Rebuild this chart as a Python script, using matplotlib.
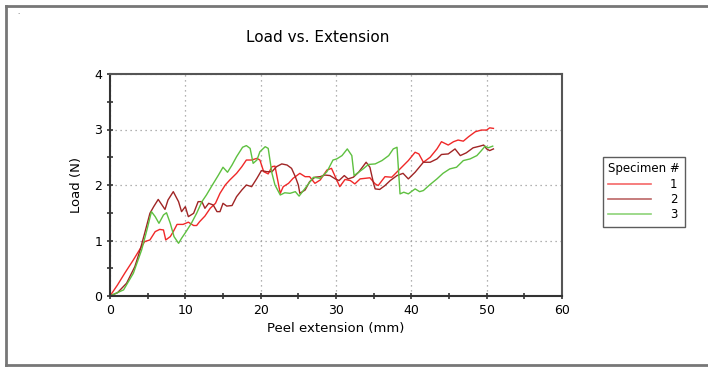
import matplotlib
matplotlib.use("Agg")
from matplotlib import pyplot as plt
from matplotlib.lines import Line2D
from matplotlib.ticker import MultipleLocator

# Specimen 1 (red)
x1 = [0, 1.0, 2.0, 3.1, 4.0, 4.6, 5.3, 6.0, 6.6, 7.1, 7.4, 8.0, 8.4, 8.9, 9.7, 10.4, 11.1,
      11.5, 11.9, 12.6, 13.3, 14.0, 14.6, 15.3, 15.9, 16.8, 17.5, 18.1, 18.8, 19.5, 19.9,
      20.4, 21.0, 21.5, 21.9, 22.6, 23.0, 23.7, 24.3, 25.2, 25.9, 26.5, 27.2, 27.9, 28.8,
      29.4, 29.9, 30.5, 31.2, 31.9, 32.5, 33.2, 34.5, 35.2, 35.6, 36.5, 37.4, 38.5, 39.6,
      40.5, 41.0, 41.6, 42.5, 43.4, 44.0, 44.9, 45.6, 46.2, 46.9, 47.6, 48.5, 49.3, 50.0,
      50.4, 50.9]
y1 = [0, 0.2, 0.42, 0.65, 0.85, 0.98, 1.01, 1.16, 1.2, 1.19, 1.01, 1.07, 1.16, 1.29, 1.29,
      1.33, 1.27, 1.27, 1.34, 1.44, 1.58, 1.67, 1.85, 2.0, 2.09, 2.21, 2.33, 2.45, 2.45, 2.48,
      2.45, 2.24, 2.2, 2.33, 2.34, 1.85, 1.97, 2.03, 2.12, 2.21, 2.15, 2.15, 2.03, 2.09, 2.27,
      2.30, 2.15, 1.97, 2.10, 2.08, 2.02, 2.11, 2.13, 2.02, 1.99, 2.15, 2.14, 2.29, 2.44, 2.59,
      2.56, 2.41, 2.50, 2.65, 2.78, 2.72, 2.78, 2.81, 2.79, 2.87, 2.96, 2.99, 2.99, 3.03, 3.02]

# Specimen 2 (dark red)
x2 = [0, 1.0, 2.2, 3.3, 4.0, 4.6, 5.3, 5.8, 6.4, 6.9, 7.3, 7.7, 8.4, 9.1, 9.5, 10.0, 10.4,
      11.1, 11.7, 12.2, 12.6, 13.1, 13.7, 14.2, 14.6, 15.0, 15.5, 16.2, 16.8, 17.5, 18.1,
      18.8, 19.5, 20.1, 20.8, 21.5, 22.1, 22.8, 23.5, 24.1, 24.6, 25.0, 25.2, 25.9, 26.5,
      27.2, 27.9, 28.5, 29.2, 29.9, 30.4, 31.1, 31.6, 32.3, 33.0, 34.0, 34.5, 35.0, 35.2,
      35.8, 36.5, 37.2, 38.1, 38.9, 39.6, 40.5, 41.6, 42.5, 43.4, 44.0, 44.9, 45.8, 46.5,
      47.3, 48.2, 49.1, 49.6, 50.0, 50.4, 50.9]
y2 = [0, 0.06, 0.23, 0.53, 0.83, 1.13, 1.49, 1.61, 1.74, 1.64, 1.56, 1.73, 1.88, 1.70, 1.52,
      1.61, 1.43, 1.49, 1.70, 1.70, 1.58, 1.67, 1.64, 1.52, 1.52, 1.67, 1.62, 1.63, 1.79, 1.91,
      2.0, 1.97, 2.12, 2.26, 2.24, 2.24, 2.33, 2.38, 2.36, 2.30, 2.15, 2.0, 1.85, 1.91, 2.06,
      2.14, 2.15, 2.18, 2.17, 2.11, 2.08, 2.17, 2.11, 2.14, 2.23, 2.41, 2.32, 2.02, 1.93, 1.92,
      1.99, 2.08, 2.17, 2.21, 2.11, 2.23, 2.41, 2.41, 2.47, 2.55, 2.56, 2.65, 2.53, 2.58, 2.67,
      2.70, 2.72, 2.65, 2.62, 2.65]

# Specimen 3 (green)
x3 = [0, 1.8, 3.1, 4.2, 4.9, 5.5, 6.0, 6.5, 7.1, 7.5, 8.0, 8.5, 9.1, 9.5, 10.1, 10.8, 11.5,
      12.2, 12.8, 13.5, 14.4, 15.0, 15.6, 16.2, 16.8, 17.6, 18.1, 18.6, 19.0, 19.5, 19.9,
      20.6, 21.0, 21.5, 21.9, 22.6, 23.2, 23.9, 24.6, 25.1, 25.9, 27.0, 27.9, 28.8, 29.6,
      30.1, 30.8, 31.5, 32.1, 32.4, 32.7, 33.6, 34.3, 35.2, 36.1, 37.0, 37.6, 38.1, 38.5,
      39.0, 39.6, 40.5, 41.1, 41.6, 42.5, 43.4, 44.2, 45.1, 46.0, 46.9, 47.8, 48.7, 49.3,
      49.8, 50.2, 50.8]
y3 = [0, 0.11, 0.41, 0.83, 1.19, 1.52, 1.43, 1.31, 1.46, 1.50, 1.31, 1.07, 0.95, 1.04, 1.16,
      1.31, 1.49, 1.70, 1.82, 1.98, 2.18, 2.32, 2.23, 2.36, 2.51, 2.68, 2.71, 2.66, 2.39, 2.45,
      2.60, 2.69, 2.66, 2.21, 2.0, 1.82, 1.86, 1.85, 1.88, 1.80, 1.94, 2.14, 2.12, 2.24, 2.45,
      2.47, 2.53, 2.65, 2.53, 2.17, 2.20, 2.29, 2.37, 2.38, 2.44, 2.53, 2.65, 2.68, 1.84, 1.87,
      1.84, 1.93, 1.88, 1.90, 2.01, 2.11, 2.21, 2.29, 2.32, 2.44, 2.47, 2.53, 2.62, 2.70, 2.67,
      2.70]

labels = ["1", "2", "3"]
colors = ["#f02828", "#a02525", "#5ec040"]

plt.rcParams["font.family"] = "DejaVu Sans"
fig = plt.figure(figsize=(7.08, 3.68), dpi=100)
ax = fig.add_axes([110 / 708, 1 - 296 / 368, 452 / 708, 222 / 368])

for xs, ys, c in zip([x1, x2, x3], [y1, y2, y3], colors):
    ax.plot(xs, ys, color=c, lw=1.0)

ax.set_xlim(0, 60)
ax.set_ylim(0, 4)
ax.xaxis.set_major_locator(MultipleLocator(10))
ax.xaxis.set_minor_locator(MultipleLocator(5))
ax.yaxis.set_major_locator(MultipleLocator(1))
ax.yaxis.set_minor_locator(MultipleLocator(0.5))
ax.tick_params(which="both", direction="inout", length=5, width=1.2, color="#333333",
               labelsize=9, pad=3)
ax.grid(True, which="major", linestyle=(0, (1, 3)), color="#999999", lw=0.9)
for s in ax.spines.values():
    s.set_color("#555555")
    s.set_linewidth(1.5)
ax.spines["left"].set_color("#333333")
ax.spines["bottom"].set_color("#333333")

ax.set_xlabel("Peel extension (mm)", fontsize=9.5, labelpad=4)
ax.set_ylabel("Load (N)", fontsize=9.5, labelpad=8)
fig.text(318 / 708, 1 - 37 / 368, "Load vs. Extension", ha="center", va="center", fontsize=11)
fig.text(18 / 708, 1 - 12 / 368, ".", ha="center", va="center", fontsize=5, color="#555555")

handles = [Line2D([], [], color=c, lw=1.2, alpha=0.7) for c in colors]
leg = fig.legend(handles, labels, title="Specimen #", loc="upper left",
                 bbox_to_anchor=(603 / 708, 1 - 157 / 368), fontsize=8.5, title_fontsize=8.5,
                 frameon=True, fancybox=False, handlelength=3.6, handletextpad=1.6,
                 borderpad=0.45, labelspacing=0.2, borderaxespad=0)
leg.get_frame().set_edgecolor("#333333")
leg.get_frame().set_linewidth(1.0)
leg._legend_box.align = "left"

# outer border (left, top, bottom)
fig.add_artist(Line2D([5.5 / 708, 5.5 / 708], [1 - 5.5 / 368, 1 - 365 / 368],
                      color="#777777", lw=2, transform=fig.transFigure))
fig.add_artist(Line2D([5.5 / 708, 1], [1 - 5.5 / 368, 1 - 5.5 / 368],
                      color="#777777", lw=2, transform=fig.transFigure))
fig.add_artist(Line2D([5.5 / 708, 1], [1 - 365 / 368, 1 - 365 / 368],
                      color="#777777", lw=2, transform=fig.transFigure))

fig.savefig("out.png", dpi=100)
